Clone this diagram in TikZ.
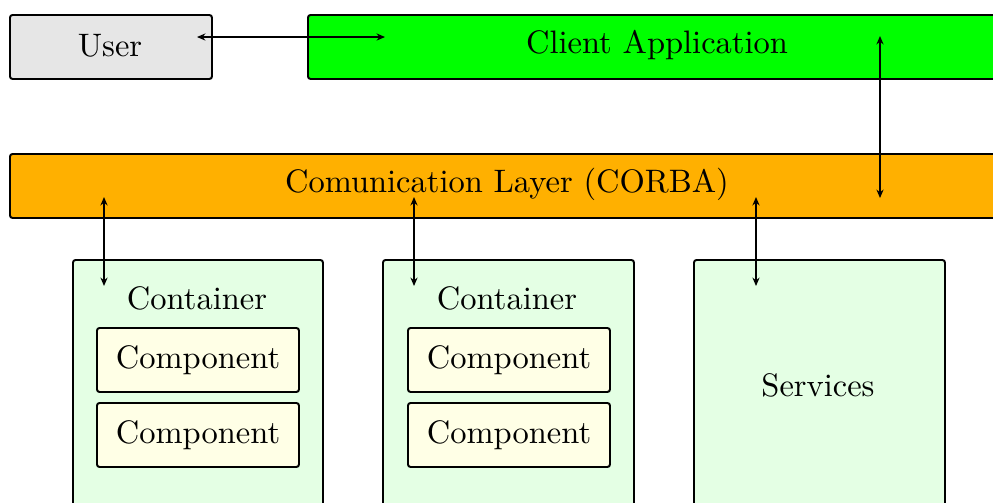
\documentclass[tikz,border=0pt]{standalone}
\usetikzlibrary{arrows.meta}
\definecolor{usergray}{RGB}{230,230,230}
\definecolor{clientgreen}{RGB}{0,255,0}
\definecolor{layerorange}{RGB}{255,176,0}
\definecolor{contgreen}{RGB}{228,255,228}
\definecolor{compyellow}{RGB}{255,255,230}
\def\u{0.3077pt}
\begin{document}
\begin{tikzpicture}[x=0.3077pt,y=-0.3077pt,
  box/.style={draw, line width=0.6pt, rounded corners=0.8pt, inner sep=0pt, anchor=north west},
  conn/.style={line width=0.8pt, {Stealth[length=2.6pt,width=2.2pt]}-{Stealth[length=2.6pt,width=2.2pt]}},
  lbl/.style={inner sep=0pt, font=\normalsize}]
\useasboundingbox (0,0) rectangle (993,502);
\clip (0,0) rectangle (993,502);
% top row
\node[box, fill=usergray, minimum width=202*\u, minimum height=64*\u] (user) at (9,14) {};
\node[lbl] (usertxt) at (110,46) {User};
\node[box, fill=clientgreen, minimum width=700*\u, minimum height=64*\u] (client) at (307,14) {};
\node[lbl] (clienttxt) at (657,45) {Client Application};
% layer
\node[box, fill=layerorange, minimum width=997*\u, minimum height=64*\u] (layer) at (9,153) {};
\node[lbl] (layertxt) at (507,184) {Comunication Layer (CORBA)};
% containers
\node[box, fill=contgreen, minimum width=250*\u, minimum height=260*\u] (c1) at (72,259) {};
\node[box, fill=contgreen, minimum width=251*\u, minimum height=260*\u] (c2) at (382,259) {};
\node[box, fill=contgreen, minimum width=251*\u, minimum height=260*\u] (c3) at (693,259) {};
\node[lbl] (c1txt) at (197,298) {Container};
\node[lbl] (c2txt) at (507,298) {Container};
\node[lbl] (c3txt) at (818,385) {Services};
% components
\node[box, fill=compyellow, minimum width=202*\u, minimum height=64*\u] (k11) at (96,327) {};
\node[box, fill=compyellow, minimum width=202*\u, minimum height=64*\u] (k12) at (96,402) {};
\node[box, fill=compyellow, minimum width=202*\u, minimum height=64*\u] (k21) at (407,327) {};
\node[box, fill=compyellow, minimum width=202*\u, minimum height=64*\u] (k22) at (407,402) {};
\node[lbl] at (k11.center) {Component};
\node[lbl] at (k12.center) {Component};
\node[lbl] at (k21.center) {Component};
\node[lbl] at (k22.center) {Component};
% connector end points
\coordinate (uA) at (197,37);
\coordinate (cA) at (385,37);
\coordinate (cB) at (880,36);
\coordinate (lB) at (880,198);
\coordinate (l1) at (104,197);
\coordinate (c1A) at (104,286);
\coordinate (l2) at (414,197);
\coordinate (c2A) at (414,286);
\coordinate (l3) at (756,197);
\coordinate (c3A) at (756,286);
\draw[conn] (uA) -- (cA);
\draw[conn] (cB) -- (lB);
\draw[conn] (l1) -- (c1A);
\draw[conn] (l2) -- (c2A);
\draw[conn] (l3) -- (c3A);
\end{tikzpicture}
\end{document}
